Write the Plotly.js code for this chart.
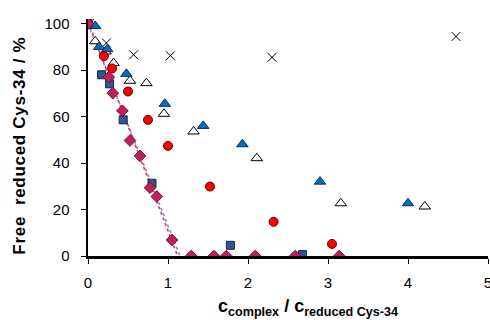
<!DOCTYPE html>
<html>
<head>
<meta charset="utf-8">
<script src="https://cdn.plot.ly/plotly-3.0.1.min.js"></script>
<style>html,body{margin:0;padding:0;background:#fff;}#chart{width:490px;height:320px;}</style>
</head>
<body>
<div id="chart"></div>
<script>
// Data
var crossX = [0.02, 0.23, 0.57, 1.03, 2.30, 4.60];
var crossY = [100, 91.7, 86.6, 86.2, 85.5, 94.5];

var blueTriX = [0.02, 0.09, 0.14, 0.24, 0.48, 0.96, 1.44, 1.93, 2.90, 4.00];
var blueTriY = [100, 99, 90, 89, 78.4, 65.5, 56, 48.1, 32, 22.7];

var openTriX = [0.0, 0.09, 0.22, 0.32, 0.525, 0.73, 0.95, 1.32, 2.11, 3.16, 4.21];
var openTriY = [100, 92.4, 88, 83, 75.4, 74.4, 61.2, 53.6, 42.1, 22.7, 21.3];

var circleX = [0.0, 0.2, 0.30, 0.50, 0.75, 1.0, 1.525, 2.32, 3.05];
var circleY = [100, 86, 80.7, 70.8, 58.6, 47.4, 29.9, 14.7, 5.2];

var squareX = [0.0, 0.17, 0.27, 0.44, 0.80, 1.78, 2.68];
var squareY = [100, 78, 74.1, 58.6, 31.3, 4.6, 0.6];

var diamondX = [0.0, 0.26, 0.31, 0.43, 0.525, 0.65, 0.775, 0.86, 1.05, 1.29, 1.575, 1.73, 2.09, 2.59, 3.14];
var diamondY = [100, 77, 70.1, 62.5, 49.7, 43.1, 29.4, 25.6, 6.9, 0, 0, 0, 0, 0, 0];

// linear trend lines (fit endpoints)
var fitSquareX = [0, 1.15];
var fitSquareY = [100, 0];
var fitDiamondX = [0, 1.12];
var fitDiamondY = [101, 0];

var xTicks = [0, 1, 2, 3, 4, 5];
var yTicks = [0, 20, 40, 60, 80, 100];

var xTitle = '<b>c<sub>complex</sub> / c<sub>reduced Cys-34</sub></b>';
var yTitle = '<b>Free  reduced Cys-34 / %</b>';

var traces = [
  {x: fitSquareX, y: fitSquareY, mode: 'lines', line: {color: '#7f93b8', width: 1.6, dash: 'dot'}, hoverinfo: 'skip'},
  {x: fitDiamondX, y: fitDiamondY, mode: 'lines', line: {color: '#e0306e', width: 1.6, dash: 'dot'}, hoverinfo: 'skip'},
  {x: crossX, y: crossY, mode: 'markers', marker: {symbol: 'x-thin-open', size: 9, color: '#000', line: {color: '#000', width: 1}}},
  {x: openTriX, y: openTriY, mode: 'markers', marker: {symbol: 'triangle-up', size: 10, color: '#ffffff', line: {color: '#000', width: 1}}},
  {x: blueTriX, y: blueTriY, mode: 'markers', marker: {symbol: 'triangle-up', size: 10, color: '#0070c0', line: {color: '#0a2a5a', width: 1}}},
  {x: circleX, y: circleY, mode: 'markers', marker: {symbol: 'circle', size: 9, color: '#ff0000', line: {color: '#600000', width: 1}}},
  {x: squareX, y: squareY, mode: 'markers', marker: {symbol: 'square', size: 8, color: '#2f5597', line: {color: '#14264a', width: 1}}},
  {x: diamondX, y: diamondY, mode: 'markers', marker: {symbol: 'diamond', size: 9, color: '#c0205a', line: {color: '#7a1038', width: 1}}}
];

var layout = {
  width: 490, height: 320,
  margin: {l: 88, r: 2, t: 19.4, b: 64},
  showlegend: false,
  paper_bgcolor: '#fff', plot_bgcolor: '#fff',
  font: {family: 'Liberation Sans, Arial, sans-serif', size: 15, color: '#000'},
  xaxis: {
    range: [0, 5], tickvals: xTicks, ticktext: xTicks.map(String),
    showgrid: false, zeroline: false, showline: true, linecolor: '#000', linewidth: 2.5,
    ticks: 'outside', ticklen: 5, tickwidth: 1, tickcolor: '#000', ticklabelstandoff: 6,
    ticklabeloverflow: 'allow', tickfont: {size: 15}
  },
  yaxis: {
    range: [0, 102], tickvals: yTicks, ticktext: yTicks.map(String),
    showgrid: false, zeroline: false, showline: true, linecolor: '#000', linewidth: 2.5,
    ticks: 'outside', ticklen: 5, tickwidth: 1, tickcolor: '#000', ticklabelstandoff: 8,
    tickfont: {size: 15}
  },
  annotations: [
    {text: yTitle, xref: 'paper', yref: 'paper', x: -0.1725, y: 0.463, xanchor: 'center', yanchor: 'middle',
     textangle: -90, showarrow: false, font: {size: 17, color: '#000'}},
    {text: xTitle, xref: 'paper', yref: 'paper', x: 0.55, y: -0.218, xanchor: 'center', yanchor: 'middle',
     showarrow: false, font: {size: 18, color: '#000'}}
  ]
};

Plotly.newPlot('chart', traces, layout, {staticPlot: true, displayModeBar: false}).then(function () {
  var anns = document.querySelectorAll('.annotation-text');
  if (anns[0]) anns[0].style.letterSpacing = '0.7px';
});
</script>
</body>
</html>
